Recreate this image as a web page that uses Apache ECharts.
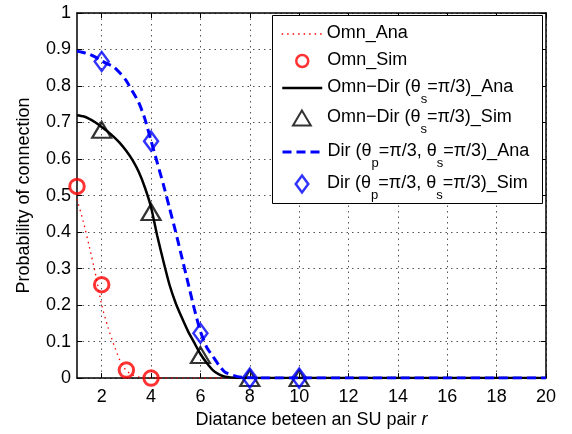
<!DOCTYPE html>
<html>
<head>
<meta charset="utf-8">
<script src="https://cdn.jsdelivr.net/npm/echarts@6/dist/echarts.min.js"></script>
<style>html,body{margin:0;padding:0;background:#fff}#c{width:572px;height:434px}</style>
</head>
<body>
<div id="c"></div>
<script>
// ---- data ----
const xTicks = [2, 4, 6, 8, 10, 12, 14, 16, 18, 20];
const yTicks = [0, 0.1, 0.2, 0.3, 0.4, 0.5, 0.6, 0.7, 0.8, 0.9, 1];
const xAna = [1, 1.25, 1.5, 1.75, 2, 2.25, 2.5, 2.75, 3, 3.25, 3.5, 3.75, 4, 4.25, 4.5, 4.75, 5, 5.25, 5.5, 5.75, 6, 6.25, 6.5, 6.75, 7, 7.5, 8, 9, 10, 12, 14, 16, 18, 20];
const omnAna = [0.49, 0.43, 0.36, 0.285, 0.20, 0.14, 0.09, 0.047, 0.02, 0.009, 0.004, 0.0015, 0.0005, 0, 0, 0, 0, 0, 0, 0, 0, 0, 0, 0, 0, 0, 0, 0, 0, 0, 0, 0, 0, 0];
const omnDirAna = [0.72, 0.717, 0.71, 0.70, 0.688, 0.675, 0.66, 0.643, 0.622, 0.597, 0.565, 0.522, 0.468, 0.39, 0.32, 0.255, 0.205, 0.165, 0.128, 0.097, 0.066, 0.042, 0.022, 0.01, 0.004, 0.0005, 0, 0, 0, 0, 0, 0, 0, 0];
const dirAna = [0.895, 0.892, 0.887, 0.879, 0.869, 0.86, 0.852, 0.835, 0.814, 0.785, 0.755, 0.71, 0.65, 0.59, 0.53, 0.465, 0.40, 0.33, 0.26, 0.19, 0.128, 0.085, 0.06, 0.035, 0.016, 0.004, 0.0008, 0, 0, 0, 0, 0, 0, 0];
const xSimOmn = [1, 2, 3, 4];
const omnSim = [0.525, 0.256, 0.022, 0.0];
const xSim = [2, 4, 6, 8, 10];
const omnDirSim = [0.68, 0.455, 0.063, 0.0, 0.0];
const dirSim = [0.867, 0.649, 0.123, 0.0, 0.0];
const names = ['Omn_Ana', 'Omn_Sim', 'Omn\u2212Dir (\u03b8s=\u03c0/3)_Ana', 'Omn\u2212Dir (\u03b8s=\u03c0/3)_Sim',
  'Dir (\u03b8p=\u03c0/3, \u03b8s=\u03c0/3)_Ana', 'Dir (\u03b8p=\u03c0/3, \u03b8s=\u03c0/3)_Sim'];
const legendRich = [
  '{m|Omn_Ana}',
  '{m|Omn_Sim}',
  '{m|Omn\u2212Dir (\u03b8}{s|s}{m|=\u03c0/3)_Ana}',
  '{m|Omn\u2212Dir (\u03b8}{s|s}{m|=\u03c0/3)_Sim}',
  '{m|Dir (\u03b8}{s|p}{m|=\u03c0/3, \u03b8}{s|s}{m|=\u03c0/3)_Ana}',
  '{m|Dir (\u03b8}{s|p}{m|=\u03c0/3, \u03b8}{s|s}{m|=\u03c0/3)_Sim}'
];

const FONT = 'Liberation Sans, Arial, Helvetica, sans-serif';
const zip = (xs, ys) => xs.map((x, i) => [x, ys[i]]);
const TRI = 'path://M9.5,0L19,16L0,16Z';
const DIA = 'path://M7,0L14,9.5L7,19L0,9.5Z';

const chart = echarts.init(document.getElementById('c'), null, { renderer: 'canvas' });

const rich = {
  m: { fontSize: 18, fontFamily: FONT, color: '#000', lineHeight: 20, verticalAlign: 'top' },
  s: { fontSize: 13, fontFamily: FONT, color: '#000', lineHeight: 13, padding: [15, 0, 0, 0], verticalAlign: 'top' }
};
const legendTops = [24, 51, 78, 108, 142, 174];
const legendLefts = [281, 295, 281, 292, 281, 294.5];
const legendItemH = [14, 12, 14, 15, 14, 17];
const legendIcons = [null, 'circle', null, TRI, null, DIA];
const legendStyles = [
  { itemStyle: { color: 'transparent', borderWidth: 0 }, lineStyle: { color: '#ff0000', width: 1.3, type: [1.5, 4] } },
  { itemStyle: { color: 'transparent', borderColor: '#ff0000', borderWidth: 2.5 } },
  { itemStyle: { color: 'transparent', borderWidth: 0 }, lineStyle: { color: '#000', width: 2.5 } },
  { itemStyle: { color: 'transparent', borderColor: '#000', borderWidth: 2 } },
  { itemStyle: { color: 'transparent', borderWidth: 0 }, lineStyle: { color: '#0000ff', width: 3, type: [9, 5] } },
  { itemStyle: { color: 'transparent', borderColor: '#0000ff', borderWidth: 2.5 } }
];
const legends = names.map((n, i) => Object.assign({
  data: [legendIcons[i] ? { name: n, icon: legendIcons[i] } : n],
  left: legendLefts[i], top: legendTops[i], padding: 0, orient: 'vertical', symbolKeepAspect: true,
  itemWidth: 40, itemHeight: legendItemH[i], itemGap: 0, z: 10, selectedMode: false,
  formatter: () => legendRich[i],
  textStyle: { fontSize: 18, fontFamily: FONT, color: '#000', rich: rich }
}, legendStyles[i]));

const gridStyle = { show: true, lineStyle: { color: '#555', width: 1, type: [1.5, 4] } };

const option = {
  backgroundColor: '#fff',
  animation: false,
  textStyle: { fontFamily: FONT },
  grid: { left: 77, right: 26, top: 13, bottom: 54, show: false, containLabel: false },
  graphic: [{
    type: 'rect', left: 272, top: 15, z: 5,
    shape: { width: 270, height: 188 },
    style: { fill: '#fff', stroke: '#000', lineWidth: 1 }
  }],
  legend: legends,
  xAxis: [{
    type: 'value', min: 1, max: 20, position: 'bottom',
    name: 'Diatance beteen an SU pair {i|r}', nameLocation: 'middle', nameGap: 28,
    nameTextStyle: { fontSize: 18, fontFamily: FONT, color: '#000', rich: { i: { fontSize: 18, fontFamily: FONT, fontStyle: 'italic', color: '#000' } } },
    axisLine: { show: true, lineStyle: { color: '#000', width: 1.5 } },
    axisTick: { show: true, inside: true, length: 5, customValues: xTicks, lineStyle: { color: '#000', width: 1 } },
    axisLabel: { show: true, customValues: xTicks, margin: 10, fontSize: 18, fontFamily: FONT, color: '#000' },
    splitLine: gridStyle
  }, {
    type: 'value', min: 1, max: 20, position: 'top',
    axisLine: { show: true, onZero: false, lineStyle: { color: '#000', width: 1.5 } },
    axisTick: { show: true, inside: true, length: 5, customValues: xTicks, lineStyle: { color: '#000', width: 1 } },
    axisLabel: { show: false },
    splitLine: { show: false }
  }],
  yAxis: [{
    type: 'value', min: 0, max: 1, interval: 0.1, position: 'left',
    name: 'Probability of connection', nameLocation: 'middle', nameGap: 44,
    nameTextStyle: { fontSize: 18, fontFamily: FONT, color: '#000' },
    axisLine: { show: true, lineStyle: { color: '#000', width: 1.5 } },
    axisTick: { show: true, inside: true, length: 5, lineStyle: { color: '#000', width: 1 } },
    axisLabel: { show: true, margin: 6, fontSize: 18, fontFamily: FONT, color: '#000',
      formatter: v => String(+(+v).toFixed(1)) },
    splitLine: gridStyle
  }, {
    type: 'value', min: 0, max: 1, interval: 0.1, position: 'right',
    axisLine: { show: true, onZero: false, lineStyle: { color: '#000', width: 1.5 } },
    axisTick: { show: true, inside: true, length: 5, lineStyle: { color: '#000', width: 1 } },
    axisLabel: { show: false },
    splitLine: { show: false }
  }],
  series: [
    { name: names[0], type: 'line', data: zip(xAna, omnAna), symbol: 'none', smooth: 0.2, z: 2,
      lineStyle: { color: '#ff0000', width: 1.3, type: [1.5, 4] }, itemStyle: { color: '#ff0000' } },
    { name: names[1], type: 'scatter', data: zip(xSimOmn, omnSim), symbol: 'circle', symbolSize: 14.5, z: 3,
      itemStyle: { color: 'transparent', borderColor: '#ff0000', borderWidth: 3 } },
    { name: names[2], type: 'line', data: zip(xAna, omnDirAna), symbol: 'none', smooth: 0.2, z: 2,
      lineStyle: { color: '#000', width: 2.5 }, itemStyle: { color: '#000' } },
    { name: names[3], type: 'scatter', data: zip(xSim, omnDirSim), symbol: TRI, symbolSize: [19, 16], z: 3,
      itemStyle: { color: 'transparent', borderColor: '#000', borderWidth: 2.2 } },
    { name: names[4], type: 'line', data: zip(xAna, dirAna), symbol: 'none', smooth: 0.2, z: 4,
      lineStyle: { color: '#0000ff', width: 3, type: [9, 5] }, itemStyle: { color: '#0000ff' } },
    { name: names[5], type: 'scatter', data: zip(xSim, dirSim), symbol: DIA, symbolSize: [14, 19], z: 4,
      itemStyle: { color: 'transparent', borderColor: '#0000ff', borderWidth: 2.5 } }
  ]
};
chart.setOption(option);
</script>
</body>
</html>
